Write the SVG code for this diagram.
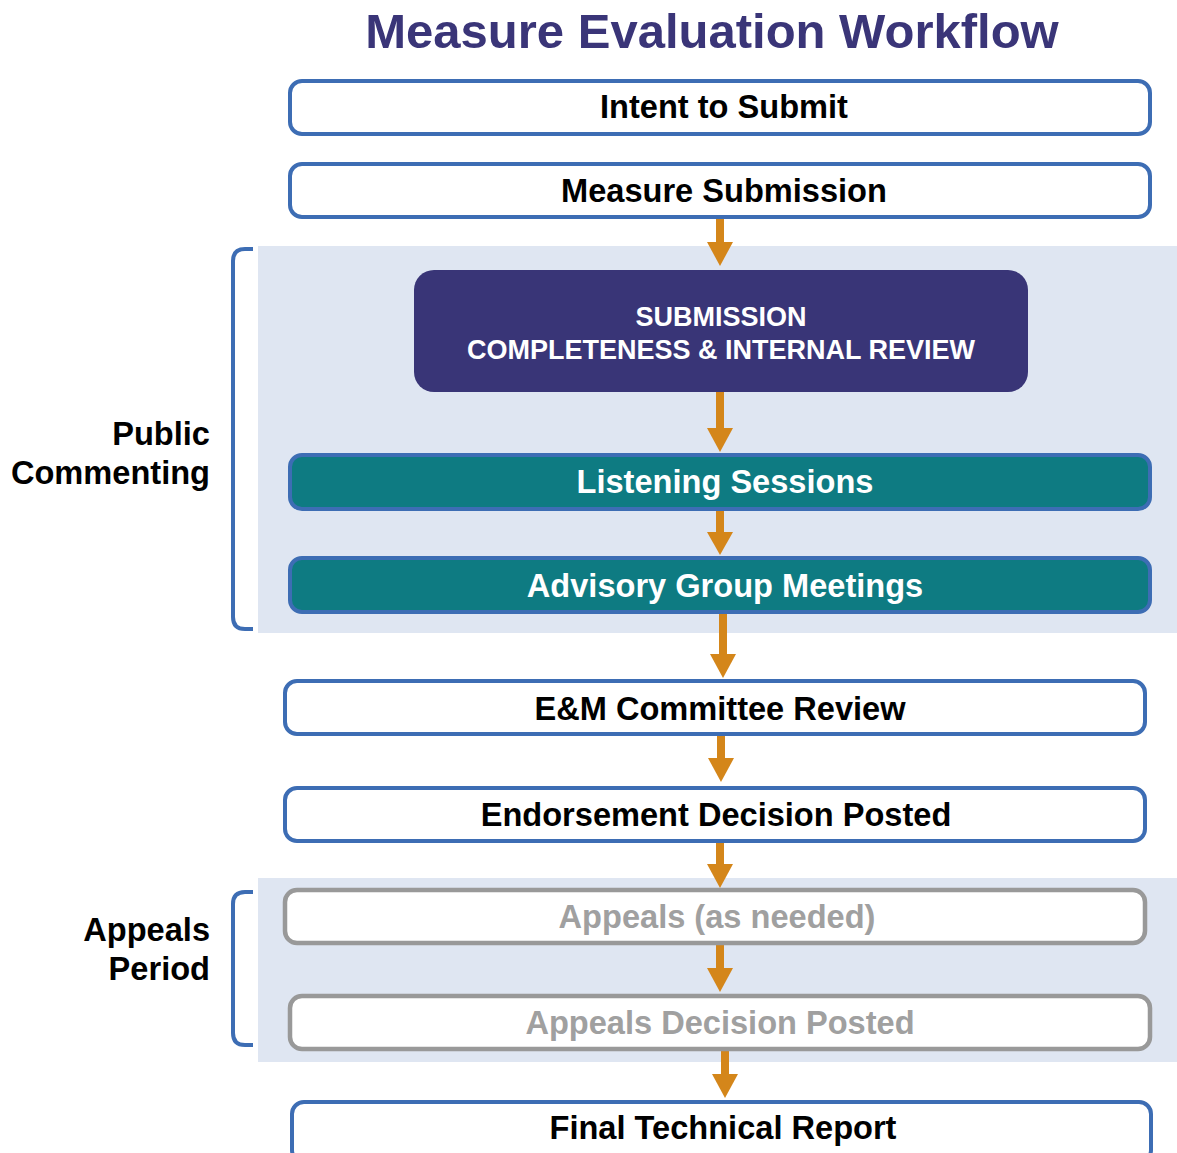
<svg xmlns="http://www.w3.org/2000/svg" width="1177" height="1153" viewBox="0 0 1177 1153">
<defs>
<style>
text{font-family:"Liberation Sans",Arial,sans-serif;font-weight:bold;}
.box{fill:#fff;stroke:#3d6db4;stroke-width:4;}
.gbox{fill:#fff;stroke:#999;stroke-width:4.5;}
.teal{fill:#0e7b82;stroke:#3d6db4;stroke-width:4;}
.lbl{font-size:32.6px;fill:#000;text-anchor:middle;}
.wlbl{font-size:32.6px;fill:#fff;text-anchor:middle;}
.glbl{font-size:32.6px;fill:#a0a0a0;text-anchor:middle;}
.side{font-size:32.6px;fill:#000;text-anchor:end;}
.panel{fill:#dfe6f2;}
.brk{fill:none;stroke:#3d6db4;stroke-width:4;}
.arr{fill:none;stroke:#d4861a;stroke-width:8;}
.head{fill:#d4861a;}
</style>
</defs>
<rect width="1177" height="1153" fill="#fff"/>
<text x="712" y="48" font-size="49" fill="#3a3578" text-anchor="middle">Measure Evaluation Workflow</text>

<g id="panels">
<rect class="panel" x="258" y="246" width="919" height="387"/>
<rect class="panel" x="258" y="878" width="919" height="184"/>
<path class="brk" d="M253,249 L245,249 Q233,249 233,261 L233,617 Q233,629 245,629 L253,629"/>
<path class="brk" d="M253,892 L245,892 Q233,892 233,904 L233,1033 Q233,1045 245,1045 L253,1045"/>
</g>

<g id="group-labels">
<text class="side" x="210" y="445">Public</text>
<text class="side" x="210" y="484">Commenting</text>
<text class="side" x="210" y="941">Appeals</text>
<text class="side" x="210" y="980">Period</text>
</g>

<g id="connectors">
<path d="M720,218 V244" class="arr"/><path class="head" d="M707,242 H733 L720,266 Z"/>
<path d="M720,392 V430" class="arr"/><path class="head" d="M707,428 H733 L720,452 Z"/>
<path d="M720,510 V534" class="arr"/><path class="head" d="M707,532 H733 L720,555 Z"/>
<path d="M723,613 V656" class="arr"/><path class="head" d="M710,654 H736 L723,678 Z"/>
<path d="M721,736 V760" class="arr"/><path class="head" d="M708,758 H734 L721,782 Z"/>
<path d="M720,843 V866" class="arr"/><path class="head" d="M707,864 H733 L720,888 Z"/>
<path d="M720,945 V970" class="arr"/><path class="head" d="M707,968 H733 L720,992 Z"/>
<path d="M725,1051 V1076" class="arr"/><path class="head" d="M712,1074 H738 L725,1098 Z"/>
</g>

<g id="intent">
<rect class="box" x="290" y="81" width="860" height="53" rx="12"/>
<text class="lbl" x="724" y="118">Intent to Submit</text>
</g>
<g id="measure-submission">
<rect class="box" x="290" y="164" width="860" height="53" rx="12"/>
<text class="lbl" x="724" y="202">Measure Submission</text>
</g>
<g id="completeness">
<rect x="414" y="270" width="614" height="122" rx="20" fill="#393577"/>
<text x="721" y="326" font-size="27" fill="#fff" text-anchor="middle">SUBMISSION</text>
<text x="721" y="359" font-size="27" fill="#fff" text-anchor="middle">COMPLETENESS &amp; INTERNAL REVIEW</text>
</g>
<g id="listening">
<rect class="teal" x="290" y="455" width="860" height="54" rx="12"/>
<text class="wlbl" x="725" y="493">Listening Sessions</text>
</g>
<g id="advisory">
<rect class="teal" x="290" y="558" width="860" height="54" rx="12"/>
<text class="wlbl" x="725" y="597">Advisory Group Meetings</text>
</g>
<g id="em-review">
<rect class="box" x="285" y="681" width="860" height="53" rx="12"/>
<text class="lbl" x="720" y="720">E&amp;M Committee Review</text>
</g>
<g id="endorsement">
<rect class="box" x="285" y="788" width="860" height="53" rx="12"/>
<text class="lbl" x="716" y="826">Endorsement Decision Posted</text>
</g>
<g id="appeals">
<rect class="gbox" x="285" y="890" width="860" height="53" rx="12"/>
<text class="glbl" x="717" y="928">Appeals (as needed)</text>
</g>
<g id="appeals-decision">
<rect class="gbox" x="290" y="996" width="860" height="53" rx="12"/>
<text class="glbl" x="720" y="1034">Appeals Decision Posted</text>
</g>
<g id="final-report">
<rect class="box" x="292" y="1102" width="859" height="60" rx="12"/>
<text class="lbl" x="723" y="1139">Final Technical Report</text>
</g>
</svg>
